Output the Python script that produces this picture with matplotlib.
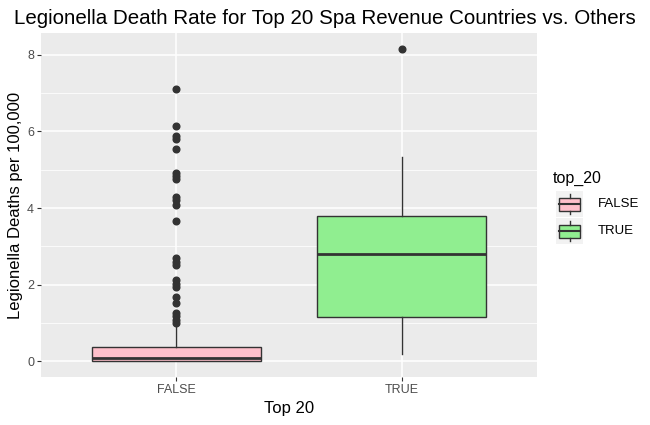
import numpy as np
import matplotlib
matplotlib.use("Agg")
import matplotlib.pyplot as plt
from matplotlib.patches import Rectangle

plt.rcParams['font.family'] = ['Liberation Sans', 'DejaVu Sans']

# 数据：箱线图统计量
groups = ["FALSE", "TRUE"]
colors = ["#FFC0CB", "#90EE90"]
whislo = [0.0, 0.20]
q1 = [0.02, 1.15]
med = [0.08, 2.79]
q3 = [0.38, 3.79]
whishi = [0.95, 5.34]
fliers_false = [7.11, 6.13, 5.87, 5.81, 5.55, 4.92, 4.84, 4.77, 4.30, 4.21, 4.08,
                3.66, 2.69, 2.59, 2.52, 2.11, 2.02, 1.93, 1.69, 1.52, 1.26, 1.17,
                1.08, 1.00]
fliers_true = [8.16]
yticks = [0, 2, 4, 6, 8]

edge = "#333333"
fig = plt.figure(figsize=(6.5, 4.25), dpi=100)
ax = fig.add_axes([41/650, 48/425, 496/650, 344/425])
ax.set_facecolor("#EBEBEB")

stats = []
fl = [fliers_false, fliers_true]
for i in range(2):
    stats.append(dict(label=groups[i], whislo=whislo[i], q1=q1[i], med=med[i],
                      q3=q3[i], whishi=whishi[i], fliers=fl[i]))

bp = ax.bxp(stats, positions=[1, 2], widths=0.75, patch_artist=True,
            showcaps=False,
            boxprops=dict(edgecolor=edge, linewidth=1.0),
            medianprops=dict(color=edge, linewidth=2.0),
            whiskerprops=dict(color=edge, linewidth=1.0),
            flierprops=dict(marker="o", markerfacecolor=edge, markeredgecolor=edge,
                            markersize=4.8))
for b, c in zip(bp["boxes"], colors):
    b.set_facecolor(c)
    b.set_zorder(3)
for k in ["medians", "whiskers", "fliers"]:
    for a in bp[k]:
        a.set_zorder(4)

# 网格
ax.set_xlim(0.4, 2.6)
ax.set_ylim(-0.41, 8.57)
ax.set_yticks(yticks)
ax.set_yticks([1, 3, 5, 7], minor=True)
ax.set_xticks([1, 2])
ax.set_xticklabels(groups)
ax.grid(which="major", color="white", linewidth=1.1, zorder=0)
ax.grid(which="minor", axis="y", color="white", linewidth=0.55, zorder=0)
ax.set_axisbelow(True)
for s in ax.spines.values():
    s.set_visible(False)
ax.tick_params(which="major", length=3, color=edge, labelcolor="#4D4D4D",
               labelsize=9, pad=2)
ax.tick_params(which="minor", length=0)

ax.set_xlabel("Top 20", fontsize=12, labelpad=4)
ax.set_ylabel("Legionella Deaths per 100,000", fontsize=12, labelpad=3)
fig.text(0.5, 0.957, "Legionella Death Rate for Top 20 Spa Revenue Countries vs. Others",
         ha="center", va="center", fontsize=14.8)

# 图例
fig.text(553/650, 1 - 178/425, "top_20", fontsize=11.5, va="center", ha="left")
for i, (g, c) in enumerate(zip(groups, colors)):
    yc = 204 + i * 27
    kax = fig.add_axes([556/650, 1 - (yc + 13)/425, 27/650, 26/425])
    kax.set_xlim(0, 1)
    kax.set_ylim(0, 1)
    kax.axis("off")
    kax.add_patch(Rectangle((0, 0), 1, 1, facecolor="#F2F2F2", edgecolor="none"))
    kax.add_patch(Rectangle((0.1, 0.25), 0.8, 0.5, facecolor=c, edgecolor=edge, linewidth=1))
    kax.plot([0.1, 0.9], [0.5, 0.5], color=edge, lw=1.5)
    kax.plot([0.5, 0.5], [0.1, 0.25], color=edge, lw=1)
    kax.plot([0.5, 0.5], [0.75, 0.9], color=edge, lw=1)
    fig.text(598/650, 1 - yc/425, g, fontsize=9.5, va="center", ha="left")

fig.savefig("out.png", dpi=100)
